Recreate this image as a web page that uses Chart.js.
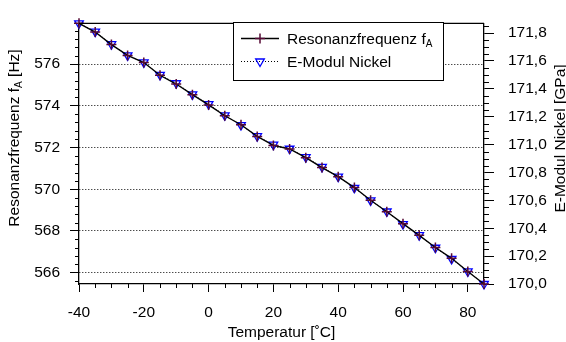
<!DOCTYPE html>
<html>
<head>
<meta charset="utf-8">
<script src="https://cdn.jsdelivr.net/npm/chart.js@4/dist/chart.umd.min.js"></script>
<style>
html, body { margin: 0; padding: 0; background: #fff; }
canvas { display: block; }
</style>
</head>
<body>
<canvas id="chart" width="566" height="342"></canvas>
<script>
const temperatures = [-40, -35, -30, -25, -20, -15, -10, -5, 0, 5, 10, 15, 20, 25, 30, 35, 40, 45, 50, 55, 60, 65, 70, 75, 80, 85];
const resonanceHz = [577.95, 577.53, 576.93, 576.41, 576.07, 575.46, 575.04, 574.53, 574.04, 573.52, 573.09, 572.53, 572.10, 571.93, 571.51, 571.04, 570.60, 570.08, 569.47, 568.92, 568.35, 567.79, 567.21, 566.69, 566.06, 565.46];
const modulusGPa = [171.87, 171.81, 171.72, 171.64, 171.59, 171.50, 171.44, 171.36, 171.29, 171.21, 171.14, 171.06, 171.00, 170.97, 170.91, 170.84, 170.77, 170.69, 170.60, 170.52, 170.43, 170.35, 170.26, 170.18, 170.09, 170.00];

const xTicks = [-40, -20, 0, 20, 40, 60, 80];
const leftTicks = [566, 568, 570, 572, 574, 576];
const rightTicks = [170.0, 170.2, 170.4, 170.6, 170.8, 171.0, 171.2, 171.4, 171.6, 171.8];

const FONT = "'Liberation Sans', Arial, Helvetica, sans-serif";
const FS = 15.5;
const CROSS_COLOR = '#550a35';
const TRI_COLOR = '#0000ff';

Chart.defaults.font.family = FONT;
Chart.defaults.font.size = FS;
Chart.defaults.color = '#000';

function drawCross(ctx, x, y, r) {
    ctx.beginPath();
    ctx.moveTo(x - r, y); ctx.lineTo(x + r, y);
    ctx.moveTo(x, y - r); ctx.lineTo(x, y + r);
    ctx.stroke();
}

function drawTriangleDown(ctx, x, y, r) {
    const s = Math.sin(Math.PI / 3) * r;
    ctx.beginPath();
    ctx.moveTo(x, y + r);
    ctx.lineTo(x - s, y - r / 2);
    ctx.lineTo(x + s, y - r / 2);
    ctx.closePath();
    ctx.stroke();
}

// Text mit tiefgestelltem Index, links beginnend bei x
function drawSubText(ctx, x, y, main, sub, tail) {
    ctx.font = FS + 'px ' + FONT;
    const w1 = ctx.measureText(main).width;
    ctx.fillText(main, x, y);
    ctx.font = '10px ' + FONT;
    const w2 = ctx.measureText(sub).width;
    ctx.fillText(sub, x + w1, y + 4);
    ctx.font = FS + 'px ' + FONT;
    if (tail) ctx.fillText(tail, x + w1 + w2, y);
}

const extras = {
    id: 'extras',
    afterDraw(chart) {
        const ctx = chart.ctx;
        const a = chart.chartArea;
        const sx = chart.scales.x, sy = chart.scales.y, sy2 = chart.scales.y2;
        ctx.save();
        ctx.strokeStyle = '#000';

        // obere Rahmenlinie
        ctx.lineWidth = 1.3;
        ctx.beginPath();
        ctx.moveTo(a.left, a.top);
        ctx.lineTo(a.right, a.top);
        ctx.stroke();

        // kleine Teilstriche
        ctx.lineWidth = 1;
        ctx.beginPath();
        for (let v = -35; v < 85; v += 5) {
            if (v % 20 === 0) continue;
            const x = Math.round(sx.getPixelForValue(v)) + 0.5;
            ctx.moveTo(x, a.bottom); ctx.lineTo(x, a.bottom + 4);
        }
        for (let k = 0; k < 40; k++) {
            const v = Math.round((565.6 + 0.4 * k) * 10) / 10;
            if (v > sy.max) break;
            if (Math.abs(v / 2 - Math.round(v / 2)) < 1e-6) continue;
            const y = Math.round(sy.getPixelForValue(v)) + 0.5;
            ctx.moveTo(a.left, y); ctx.lineTo(a.left - 4, y);
        }
        for (let k = 1; k < 40; k++) {
            const v = Math.round((170 + 0.05 * k) * 100) / 100;
            if (v > sy2.max) break;
            if (Math.abs(v / 0.2 - Math.round(v / 0.2)) < 1e-6) continue;
            const y = Math.round(sy2.getPixelForValue(v)) + 0.5;
            ctx.moveTo(a.right, y); ctx.lineTo(a.right + 5, y);
        }
        ctx.stroke();

        // Achsentitel links (mit Index) und rechts
        ctx.fillStyle = '#000';
        ctx.textBaseline = 'middle';
        ctx.textAlign = 'left';
        ctx.save();
        ctx.translate(15, 138);
        ctx.rotate(-Math.PI / 2);
        ctx.font = FS + 'px ' + FONT;
        let total = ctx.measureText('Resonanzfrequenz f').width + ctx.measureText(' [Hz]').width;
        ctx.font = '10px ' + FONT;
        total += ctx.measureText('A').width;
        drawSubText(ctx, -total / 2, 0, 'Resonanzfrequenz f', 'A', ' [Hz]');
        ctx.restore();

        ctx.save();
        ctx.translate(561, 138.5);
        ctx.rotate(-Math.PI / 2);
        ctx.font = FS + 'px ' + FONT;
        ctx.textAlign = 'center';
        ctx.fillText('E-Modul Nickel [GPa]', 0, 0);
        ctx.restore();

        // Legende
        ctx.fillStyle = '#fff';
        ctx.fillRect(233.5, 22.5, 210, 58);
        ctx.lineWidth = 1;
        ctx.strokeStyle = '#000';
        ctx.strokeRect(233.5, 22.5, 210, 58);

        ctx.lineWidth = 1.4;
        ctx.beginPath(); ctx.moveTo(241, 38.5); ctx.lineTo(279, 38.5); ctx.stroke();
        ctx.strokeStyle = CROSS_COLOR; ctx.lineWidth = 1.5;
        drawCross(ctx, 260, 38.5, 5);

        ctx.strokeStyle = '#000'; ctx.lineWidth = 1;
        ctx.setLineDash([1, 2]);
        ctx.beginPath(); ctx.moveTo(241, 61.5); ctx.lineTo(279, 61.5); ctx.stroke();
        ctx.setLineDash([]);
        ctx.strokeStyle = TRI_COLOR; ctx.lineWidth = 1.3;
        drawTriangleDown(ctx, 260, 61.5, 5);

        ctx.fillStyle = '#000';
        drawSubText(ctx, 287, 40, 'Resonanzfrequenz f', 'A', '');
        ctx.font = FS + 'px ' + FONT;
        ctx.fillText('E-Modul Nickel', 287, 62.5);
        ctx.restore();
    }
};

new Chart(document.getElementById('chart'), {
    type: 'line',
    data: {
        datasets: [{
            label: 'Resonanzfrequenz fA',
            data: temperatures.map((t, i) => ({ x: t, y: resonanceHz[i] })),
            yAxisID: 'y',
            borderColor: '#000',
            borderWidth: 1.4,
            pointStyle: 'cross',
            pointRadius: 5,
            pointBorderColor: CROSS_COLOR,
            pointBackgroundColor: CROSS_COLOR,
            pointBorderWidth: 1.5,
            tension: 0,
            clip: false
        }, {
            label: 'E-Modul Nickel',
            data: temperatures.map((t, i) => ({ x: t, y: modulusGPa[i] })),
            yAxisID: 'y2',
            borderColor: '#000',
            borderWidth: 1,
            borderDash: [1, 2],
            pointStyle: 'triangle',
            pointRotation: 180,
            pointRadius: 5,
            pointBorderColor: TRI_COLOR,
            pointBackgroundColor: 'rgba(0,0,0,0)',
            pointBorderWidth: 1.3,
            tension: 0,
            clip: false
        }]
    },
    options: {
        responsive: false,
        animation: false,
        devicePixelRatio: 1,
        layout: { padding: { top: 12, left: 0, right: 0, bottom: 0 } },
        plugins: { legend: { display: false }, tooltip: { enabled: false } },
        scales: {
            x: {
                type: 'linear',
                min: -40,
                max: 85,
                afterBuildTicks: s => { s.ticks = xTicks.map(v => ({ value: v })); },
                afterFit: s => { s.height = 58; },
                ticks: { padding: 11, maxRotation: 0, autoSkip: false, callback: v => String(v) },
                grid: { drawOnChartArea: false, color: '#000', tickLength: 8, tickWidth: 1 },
                border: { color: '#000', width: 1.3 },
                title: { display: true, text: 'Temperatur [˚C]', padding: { top: 0, bottom: 0 } }
            },
            y: {
                position: 'left',
                min: 565.46,
                max: 577.95,
                afterBuildTicks: s => { s.ticks = leftTicks.map(v => ({ value: v })); },
                afterFit: s => { s.width = 79; },
                ticks: { padding: 10, callback: v => String(v) },
                grid: { color: '#000', lineWidth: 1, tickLength: 9 },
                border: { color: '#000', width: 1.3, dash: [1, 2] }
            },
            y2: {
                position: 'right',
                min: 170.0,
                max: 171.87,
                afterBuildTicks: s => { s.ticks = rightTicks.map(v => ({ value: v })); },
                afterFit: s => { s.width = 82; },
                ticks: { padding: 14, callback: v => v.toFixed(1).replace('.', ',') },
                grid: { drawOnChartArea: false, color: '#000', tickLength: 10 },
                border: { color: '#000', width: 1.3 }
            }
        }
    },
    plugins: [extras]
});
</script>
</body>
</html>
